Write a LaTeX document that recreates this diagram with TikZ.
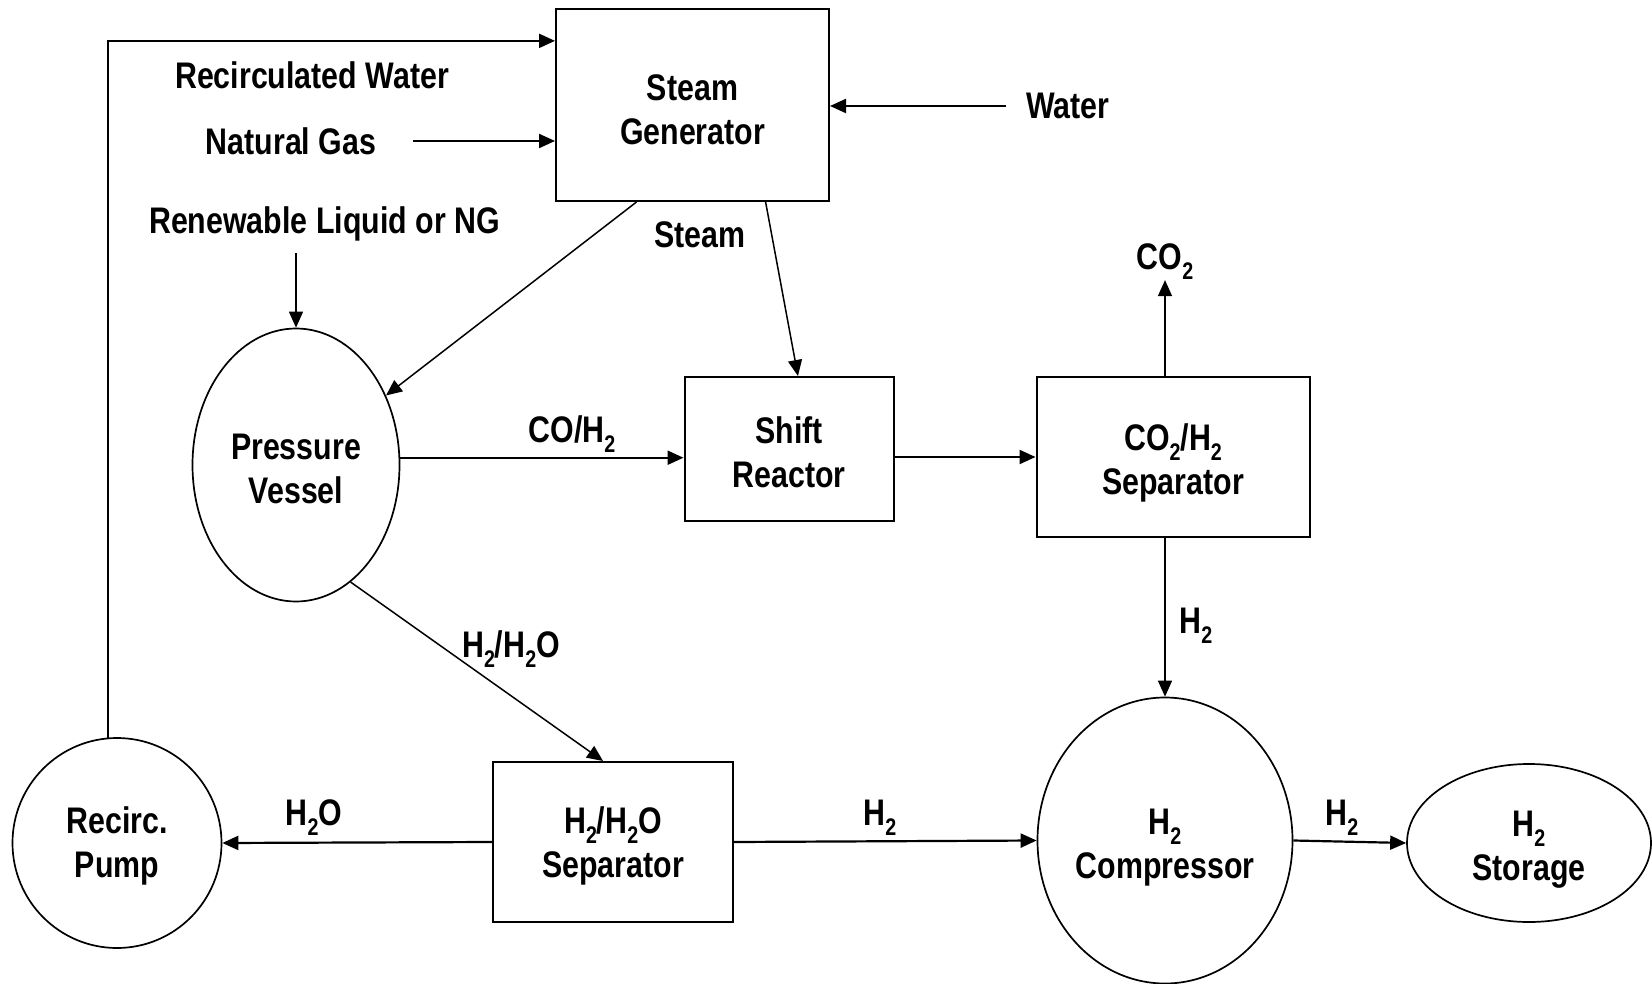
\documentclass[tikz,border=0pt]{standalone}
\usepackage{fontspec}
\setmainfont{Liberation Sans}[FakeStretch=0.82]
\usetikzlibrary{arrows.meta, shapes.geometric}

% lowered subscript in the text font
\newcommand{\dn}[1]{\raisebox{-10pt}{\fontsize{24}{24}\selectfont #1}}
% taller first line, pushes a node's text down a little
\newcommand{\tall}[1]{\rule{0pt}{#1}}

\begin{document}
\begin{tikzpicture}[
  x=1pt, y=-1pt,
  font=\bfseries\fontsize{37}{44}\selectfont,
  inner sep=0pt,
  box/.style={draw, line width=2pt, align=center},
  vessel/.style={ellipse, draw, line width=1.7pt, align=center},
  arr/.style={-{Triangle[length=16pt,width=14pt]}, line width=2.2pt},
  slim/.style={arr, line width=1.5pt},
]
\useasboundingbox (0,0) rectangle (1652,984);
% process units
\node[box, minimum width=273pt, minimum height=192pt] (steamgen) at (692.5,105) {\tall{35pt}Steam\\Generator};
\node[box, minimum width=209pt, minimum height=144pt] (shift) at (789,449) {\tall{33pt}Shift\\Reactor};
\node[box, minimum width=273pt, minimum height=160pt] (cosep) at (1173,457) {\tall{38pt}CO\dn{2}/H\dn{2}\\Separator};
\node[box, minimum width=240pt, minimum height=160pt] (h2osep) at (613,842) {\tall{35pt}H\dn{2}/H\dn{2}O\\Separator};
\node[vessel, minimum width=207pt, minimum height=273pt] (vessel) at (296,465) {\tall{33pt}Pressure\\Vessel};
\node[vessel, minimum width=255pt, minimum height=286pt] (comp) at (1165,840.5) {\tall{40pt}H\dn{2}\\Compressor};
\node[vessel, minimum width=244pt, minimum height=158pt] (store) at (1529,843) {\tall{38pt}H\dn{2}\\Storage};
\node[vessel, minimum width=209pt, minimum height=210pt] (pump) at (117,843) {\tall{33pt}Recirc.\\Pump};
% stream labels
\node (recwater) at (312,75) {Recirculated Water};
\node (natgas) at (291,141) {Natural Gas};
\node (water) at (1068,106) {Water};
\node (renew) at (324.5,224) {Renewable Liquid or NG};
\node (steamlbl) at (699.6,235) {Steam};
\node (coh2) at (572,434) {CO/H\dn{2}};
\node (co2) at (1165,262) {CO\dn{2}};
\node (h2down) at (1196,626) {H\dn{2}};
\node (h2mix) at (511,649) {H\dn{2}/H\dn{2}O};
\node (h2o) at (314,818) {H\dn{2}O};
\node (h2mid) at (880,818) {H\dn{2}};
\node (h2out) at (1342,818) {H\dn{2}};
% feeds into the steam generator
\draw[arr] (pump.95) |- (steamgen.155);
\draw[arr, shorten <=37pt] (natgas.east) -- (natgas.east -| steamgen.west);
\draw[arr, shorten <=20pt] (water.west) -- (water.west -| steamgen.east);
\draw[slim, shorten <=12pt] (vessel.north |- renew.south) -- (vessel.north);
% steam lines
\draw[slim] (steamgen.240) -- (vessel);
\draw[slim] (steamgen.307) -- (shift.83);
% gas train
\draw[arr] (vessel.4) -- (vessel.4 -| shift.west);
\draw[arr] (shift.east |- cosep.west) -- (cosep.west);
\draw[slim] (co2.south |- cosep.north) -- (co2.south);
\draw[slim] (comp.north |- cosep.south) -- (comp.north);
% water separation and product
\draw[slim] (vessel.295) -- (h2osep.97);
\draw[arr] (h2osep.west) -- (pump.east);
\draw[arr] (h2osep.east) -- (comp.west);
\draw[arr] (comp.east) -- (store.west);
\end{tikzpicture}
\end{document}
